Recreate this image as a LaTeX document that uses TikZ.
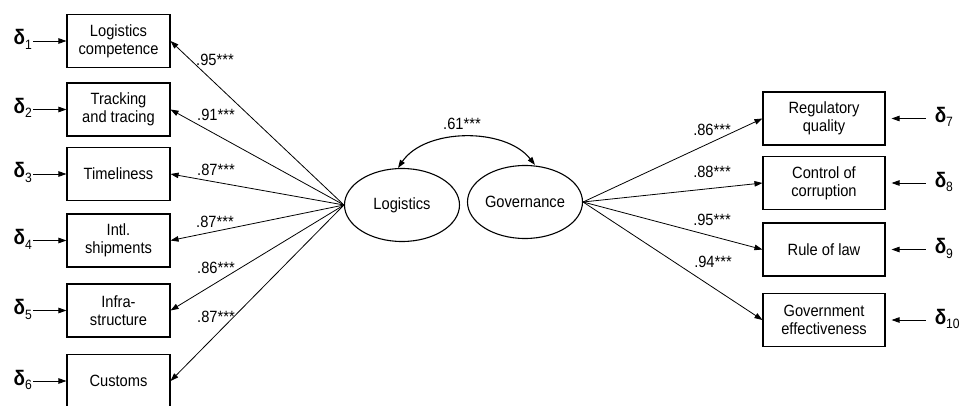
\documentclass[tikz,border=0pt]{standalone}
\usepackage{fontspec}
\setmainfont{Liberation Sans}[FakeStretch=0.9]
\usetikzlibrary{arrows.meta,shapes.geometric}
% error term: delta with a lowered index
\newcommand\errterm[1]{\textbf{δ}\raisebox{-4.5pt}{\fontsize{13.5}{13.5}\selectfont #1}}
\begin{document}
\begin{tikzpicture}[x=1pt,y=-1pt,
  obs/.style={draw,line width=1.1pt,minimum height=53pt,inner sep=0pt,align=center,
              font=\fontsize{16.3}{18}\selectfont},
  lobs/.style={obs,minimum width=103pt},
  robs/.style={obs,minimum width=122pt},
  lat/.style={draw,ellipse,line width=1.1pt,minimum width=115pt,minimum height=73pt,
              inner sep=0pt,font=\fontsize{16.3}{18}\selectfont},
  err/.style={inner sep=0pt,font=\fontsize{21}{21}\selectfont},
  load/.style={inner sep=0pt,font=\fontsize{16.3}{18}\selectfont},
  arr/.style={line width=0.8pt,-{Triangle[length=8pt,width=5.5pt]}},
]
\useasboundingbox (0,0) rectangle (971,406);

% latent factors
\node[lat] (L) at (402,205) {Logistics};
\node[lat] (G) at (525,202) {Governance};

% logistics indicators
\node[lobs] (b1) at (118.5,41)    {Logistics\\competence};
\node[lobs] (b2) at (118.5,109.5) {Tracking\\and tracing};
\node[lobs] (b3) at (118.5,174)   {Timeliness};
\node[lobs] (b4) at (118.5,240.5) {Intl.\\shipments};
\node[lobs] (b5) at (118.5,310.5) {Infra-\\structure};
\node[lobs] (b6) at (118.5,381)   {Customs};

% governance indicators
\node[robs] (r1) at (824,118.5) {Regulatory\\quality};
\node[robs] (r2) at (824,183)   {Control of\\corruption};
\node[robs] (r3) at (824,249.5) {Rule of law};
\node[robs] (r4) at (824,320)   {Government\\effectiveness};

% error terms, left
\foreach \i/\b in {1/b1,2/b2,3/b3,4/b4,5/b5,6/b6}{
  \path (\b.west) ++(-53,4) node[err,anchor=base west] (d\i) {\errterm{\i}};
  \draw[arr] (d\i.east |- \b.west) ++(1,0) -- (\b.west);
}
% error terms, right
\foreach \i/\b in {7/r1,8/r2,9/r3,10/r4}{
  \path (\b.east) ++(49,4) node[err,anchor=base west] (d\i) {\errterm{\i}};
  \draw[arr] (d\i.west |- \b.east) ++(-9,0) -- ([xshift=6pt]\b.east);
}

% loadings
\foreach \b in {b1,b2,b3,b4,b5,b6} \draw[arr] (L.west) -- (\b.east);
\foreach \r in {r1,r2,r3,r4} \draw[arr] (G.east) -- (\r.west);

\node[load] (l1) at (215,60)  {.95***};
\node[load] (l2) at (216,115) {.91***};
\node[load] (l3) at (216,170) {.87***};
\node[load] (l4) at (215,222) {.87***};
\node[load] (l5) at (216,268) {.86***};
\node[load] (l6) at (216,317) {.87***};

\node[load] (k1) at (712,130) {.86***};
\node[load] (k2) at (712,172) {.88***};
\node[load] (k3) at (712,220) {.95***};
\node[load] (k4) at (713,262) {.94***};

% factor correlation
\draw[line width=1.1pt,{Triangle[length=8pt,width=5.5pt]}-{Triangle[length=8pt,width=5.5pt]}]
  ([xshift=-4pt]L.north) .. controls (425,128) and (505,127) .. ([xshift=10pt]G.north);
\node[load] (c) at (462,124) {.61***};
\end{tikzpicture}
\end{document}
